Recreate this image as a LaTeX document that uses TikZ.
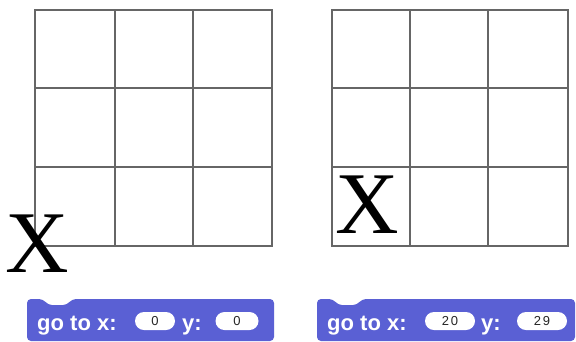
\documentclass[tikz,border=0pt]{standalone}
\usepackage{fontspec}
\setmainfont{Liberation Serif}
\newfontfamily\blockfont{Liberation Sans}
\newfontfamily\digitfont[LetterSpace=12]{Liberation Sans}
\definecolor{blockblue}{HTML}{5A60D4}
\definecolor{gridgray}{HTML}{666666}
\tikzset{
  gridline/.style={draw=gridgray, line width=1.8pt},
  blockshape/.style={fill=blockblue, rounded corners=4pt},
  blocklabel/.style={anchor=base west, text=white, inner sep=0pt, font=\blockfont\bfseries\fontsize{22}{22}\selectfont},
  oval/.style={fill=white, rounded corners=9pt, minimum width=#1, minimum height=18pt, inner sep=0pt, text=black!85, font=\digitfont\fontsize{13}{13}\selectfont},
  bigx/.style={anchor=base west, inner sep=0pt, font=\fontsize{88}{88}\selectfont}
}
\begin{document}
\begin{tikzpicture}[x=1pt,y=-1pt]
\useasboundingbox[fill=white] (0,0) rectangle (576,341);
% left grid
\draw[gridline] (35,10) rectangle (272,246);
\draw[gridline] (115,10) -- (115,246) (193,10) -- (193,246) (35,88) -- (272,88) (35,167) -- (272,167);
% right grid
\draw[gridline] (332,10) rectangle (568,246);
\draw[gridline] (410,10) -- (410,246) (488,10) -- (488,246) (332,88) -- (568,88) (332,167) -- (568,167);
% X marks
\node[bigx] (x1) at (5,272) {X};
\node[bigx] (x2) at (335,233) {X};
% left block
\fill[blockshape] (27,341) -- (27,299) -- (43,299) -- (48,305) -- (67,305) -- (72,299) -- (274,299) -- (274,341) -- cycle;
\node[blocklabel] (g1) at (37,330) {go to x:};
\node[oval=40pt] (ox1) at (155,321) {0};
\node[blocklabel] (y1) at (182,330) {y:};
\node[oval=43pt] (oy1) at (237,321) {0};
% right block
\fill[blockshape] (317,341) -- (317,299) -- (333,299) -- (338,305) -- (357,305) -- (362,299) -- (575,299) -- (575,341) -- cycle;
\node[blocklabel] (g2) at (327,330) {go to x:};
\node[oval=50pt] (ox2) at (450,321) {20};
\node[blocklabel] (y2) at (481,330) {y:};
\node[oval=50pt] (oy2) at (542,321) {29};
\end{tikzpicture}
\end{document}
